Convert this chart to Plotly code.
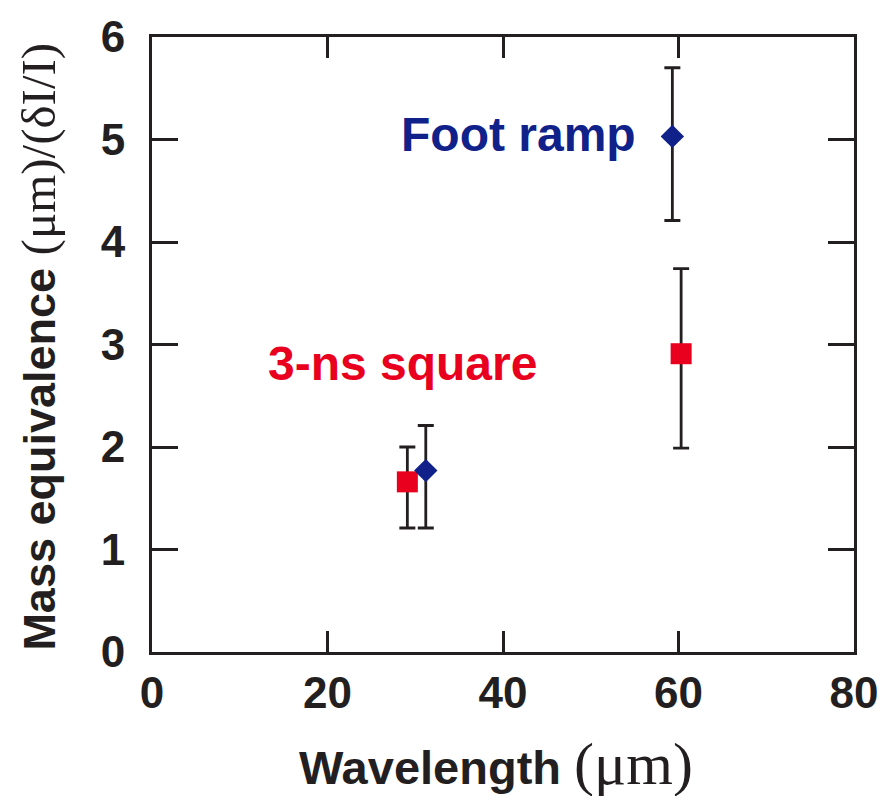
import plotly.graph_objects as go

# Foot-ramp pulse measurements
foot_x = [31.2, 59.3]
foot_y = [1.77, 5.03]
foot_err_plus = [0.44, 0.67]
foot_err_minus = [0.56, 0.82]

# 3-ns square pulse measurements
square_x = [29.1, 60.3]
square_y = [1.66, 2.91]
square_err_plus = [0.34, 0.83]
square_err_minus = [0.45, 0.92]

x_ticks = [0, 20, 40, 60, 80]
y_ticks = [0, 1, 2, 3, 4, 5, 6]

NAVY = "#11218a"
RED = "#e8001e"
INK = "#231f20"
SANS = "Liberation Sans, Arial, sans-serif"
SERIF = "Liberation Serif, Times New Roman, serif"

fig = go.Figure()

fig.add_trace(go.Scatter(
    x=square_x, y=square_y, mode="markers",
    marker=dict(symbol="square", size=21, color=RED, line=dict(width=0)),
    error_y=dict(type="data", symmetric=False, array=square_err_plus,
                 arrayminus=square_err_minus, color=INK, thickness=2.8, width=8),
    showlegend=False,
))
fig.add_trace(go.Scatter(
    x=foot_x, y=foot_y, mode="markers",
    marker=dict(symbol="diamond", size=18, color=NAVY, line=dict(width=0)),
    error_y=dict(type="data", symmetric=False, array=foot_err_plus,
                 arrayminus=foot_err_minus, color=INK, thickness=2.8, width=8),
    showlegend=False,
))

axis_common = dict(
    showline=True, linecolor=INK, linewidth=3, mirror="ticks",
    ticks="inside", tickcolor=INK, tickwidth=3,
    showgrid=False, zeroline=False, ticklabeloverflow="allow",
    tickfont=dict(family=SANS, size=44, color=INK, weight="bold"),
)

fig.update_xaxes(range=[0, 80], tickvals=x_ticks, ticklen=21, ticklabelstandoff=0, **axis_common)
fig.update_yaxes(range=[0, 6], tickvals=y_ticks, ticklen=26, ticklabelstandoff=15, **axis_common)

fig.add_annotation(
    x=41.8, y=5.05, xref="x", yref="y", showarrow=False,
    text="<b>Foot ramp</b>", font=dict(family=SANS, size=48, color=NAVY),
)
fig.add_annotation(
    x=28.6, y=2.81, xref="x", yref="y", showarrow=False,
    text="<b>3-ns square</b>", font=dict(family=SANS, size=48, color=RED),
)

# Axis titles: bold sans words with serif symbols
fig.add_annotation(
    x=0.49, y=-0.182, xref="paper", yref="paper", showarrow=False,
    xanchor="center", yanchor="middle",
    text=f"<b>Wavelength </b><span style='font-family:{SERIF};font-size:60px'>(μm)</span>",
    font=dict(family=SANS, size=47, color=INK),
)
fig.add_annotation(
    x=-0.162, y=0.497, xref="paper", yref="paper", showarrow=False,
    xanchor="center", yanchor="middle", textangle=-90,
    text=f"<b>Mass equivalence </b><span style='font-family:{SERIF};font-size:49px'>(μm)/(δI/I)</span>",
    font=dict(family=SANS, size=45, color=INK),
)

fig.update_layout(
    width=890, height=796,
    margin=dict(l=152, r=27, t=30, b=144),
    paper_bgcolor="white", plot_bgcolor="white",
)

fig.write_html("out.html")
